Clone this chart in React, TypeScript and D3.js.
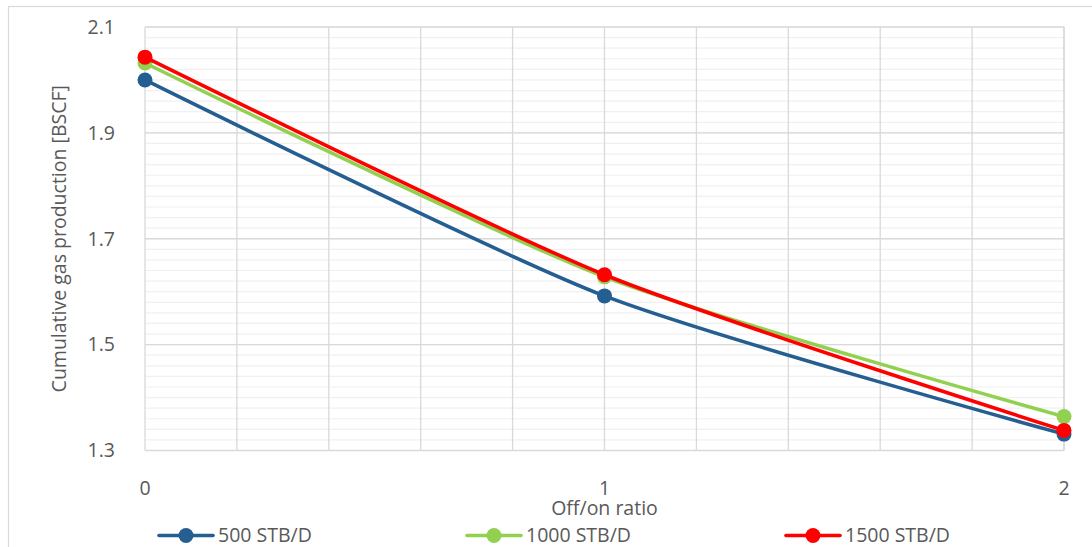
import React from "react";
import * as d3 from "d3";

const xValues = [0, 1, 2];
const seriesNames = ["500 STB/D", "1000 STB/D", "1500 STB/D"];
const seriesColors = ["#255E91", "#92D050", "#FF0000"];
const values500 = [2.0, 1.592, 1.331];
const values1000 = [2.032, 1.628, 1.364];
const values1500 = [2.043, 1.632, 1.338];
const yTicks = [1.3, 1.5, 1.7, 1.9, 2.1];
const xTicks = [0, 1, 2];

const W = 1092;
const H = 547;
const left = 145;
const right = 1064;
const top = 27;
const bottom = 450.5;
const font = "'Open Sans', 'Noto Sans', sans-serif";
const textColor = "#595959";
const fs = 19.5;

export default function App() {
  const x = d3.scaleLinear().domain([0, 2]).range([left, right]);
  const y = d3.scaleLinear().domain([1.3, 2.1]).range([bottom, top]);
  const series = [values500, values1000, values1500];
  const line = d3
    .line<[number, number]>()
    .x((d) => x(d[0]))
    .y((d) => y(d[1]))
    .curve(d3.curveCardinal.tension(0.3));

  const minorY = d3.range(0, 41).map((i) => 1.3 + i * 0.02);
  const gridX = d3.range(0, 11).map((i) => i * 0.2);

  const legendX = [159, 467, 786];

  return (
    <svg
      width={W}
      height={H}
      style={{ position: "absolute", left: 0, top: 0 }}
      fontFamily={font}
    >
      <rect x={0} y={0} width={W} height={H} fill="#fff" />
      <rect x={8.5} y={6.5} width={W + 10} height={H + 10} fill="#fff" stroke="#D9D9D9" strokeWidth={1.2} />
      {minorY.map((v, i) => (
        <line key={"m" + i} x1={left} x2={right} y1={y(v)} y2={y(v)} stroke="#F0F0F0" strokeWidth={1.2} />
      ))}
      {yTicks.map((v) => (
        <line key={"M" + v} x1={left} x2={right} y1={y(v)} y2={y(v)} stroke="#D9D9D9" strokeWidth={1.3} />
      ))}
      {gridX.map((v, i) => (
        <line key={"gx" + i} x1={x(v)} x2={x(v)} y1={top} y2={bottom} stroke="#D9D9D9" strokeWidth={1.3} />
      ))}
      <line x1={right} x2={right} y1={top} y2={bottom} stroke="#D9D9D9" strokeWidth={1.3} />
      {yTicks.map((v) => (
        <text key={"yt" + v} x={115} y={y(v)} dy="0.35em" textAnchor="end" fontSize={fs} fill={textColor}>
          {v.toFixed(1)}
        </text>
      ))}
      {xTicks.map((v) => (
        <text key={"xt" + v} x={x(v)} y={488.5} dy="0.35em" textAnchor="middle" fontSize={fs} fill={textColor}>
          {v}
        </text>
      ))}
      <text x={(left + right) / 2} y={508} dy="0.35em" textAnchor="middle" fontSize={fs} fill={textColor}>
        Off/on ratio
      </text>
      <text
        transform={`translate(59, ${(top + bottom) / 2}) rotate(-90)`}
        textAnchor="middle"
        dy="0.35em"
        fontSize={fs}
        fill={textColor}
      >
        Cumulative gas production [BSCF]
      </text>
      {series.map((vals, si) => {
        const pts: [number, number][] = xValues.map((xv, i) => [xv, vals[i]]);
        return (
          <g key={"s" + si}>
            <path d={line(pts) || ""} fill="none" stroke={seriesColors[si]} strokeWidth={3.6} strokeLinecap="round" />
            {pts.map((p, i) => (
              <circle key={i} cx={x(p[0])} cy={y(p[1])} r={7.5} fill={seriesColors[si]} />
            ))}
          </g>
        );
      })}
      {seriesNames.map((name, i) => (
        <g key={"lg" + i} transform={`translate(${legendX[i]}, 535.5)`}>
          <line x1={0} x2={54} y1={0} y2={0} stroke={seriesColors[i]} strokeWidth={3.6} strokeLinecap="round" />
          <circle cx={27} cy={0} r={7.5} fill={seriesColors[i]} />
          <text x={59} y={0} dy="0.35em" fontSize={fs} fill={textColor}>
            {name}
          </text>
        </g>
      ))}
    </svg>
  );
}
